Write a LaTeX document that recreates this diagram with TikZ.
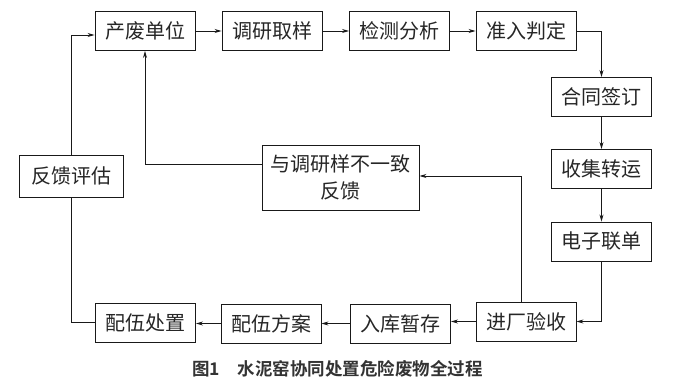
\documentclass[tikz,border=0pt]{standalone}
\usepackage{fontspec}
\newfontfamily\cjk{Noto Sans CJK SC}
\newfontfamily\cjkb{Noto Sans CJK SC Bold}
\usetikzlibrary{arrows.meta}
\begin{document}
\begin{tikzpicture}[x=1pt,y=-1pt,
  box/.style={draw=black!90,line width=0.9pt,minimum width=100pt,minimum height=39pt,inner sep=0pt,
    font=\cjk\fontsize{20}{27}\selectfont,text=black!85,align=center},
  arr/.style={draw=black!90,line width=0.9pt,-{Stealth[length=7pt,width=4pt]}},
  ln/.style={draw=black!90,line width=0.9pt}]
\useasboundingbox (0,0) rectangle (681,382);
\fill[white] (0,0) rectangle (681,382);
% top row
\node[box] (a) at (145,31) {产废单位};
\node[box] (b) at (272,31) {调研取样};
\node[box] (c) at (399.5,31) {检测分析};
\node[box] (d) at (526,31) {准入判定};
% right column
\node[box] (e) at (601.5,97) {合同签订};
\node[box] (f) at (601.5,169) {收集转运};
\node[box] (g) at (601.5,241.5) {电子联单};
% bottom row
\node[box] (h) at (526,321.5) {进厂验收};
\node[box] (i) at (400.5,323.5) {入库暂存};
\node[box] (j) at (271,323.5) {配伍方案};
\node[box] (k) at (145.5,322.5) {配伍处置};
% left and middle
\node[box,minimum width=104pt,minimum height=42pt] (l) at (71,176) {反馈评估};
\node[box,minimum width=157pt,minimum height=65pt] (m) at (340.5,177.5) {与调研样不一致\\反馈};
% connectors
\draw[arr] (a) -- (b);
\draw[arr] (b) -- (c);
\draw[arr] (c) -- (d);
\draw[arr] (d.east) -| (e.north);
\draw[arr] (e) -- (f);
\draw[arr] (f) -- (g);
\draw[arr] (g.south) |- (h.east);
\draw[arr] (h.west) -- (h.west -| i.east);
\draw[arr] (i.west) -- (i.west -| j.east);
\draw[arr] (j.west) -- (j.west -| k.east);
\draw[ln] (k.west) -| (l.south);
\draw[arr] (l.north) |- ([yshift=-4pt]a.west);
\draw[arr] ([xshift=-5pt]h.north) |- ([yshift=1.5pt]m.east);
\draw[arr] ([yshift=13.5pt]m.west) -| (a.south);
% caption
\node[font=\cjkb\fontsize{17.5}{20}\selectfont,text=black!80,inner sep=0pt] (cap) at (337.5,369) {图1\hspace{1em}水泥窑协同处置危险废物全过程};
\end{tikzpicture}
\end{document}
